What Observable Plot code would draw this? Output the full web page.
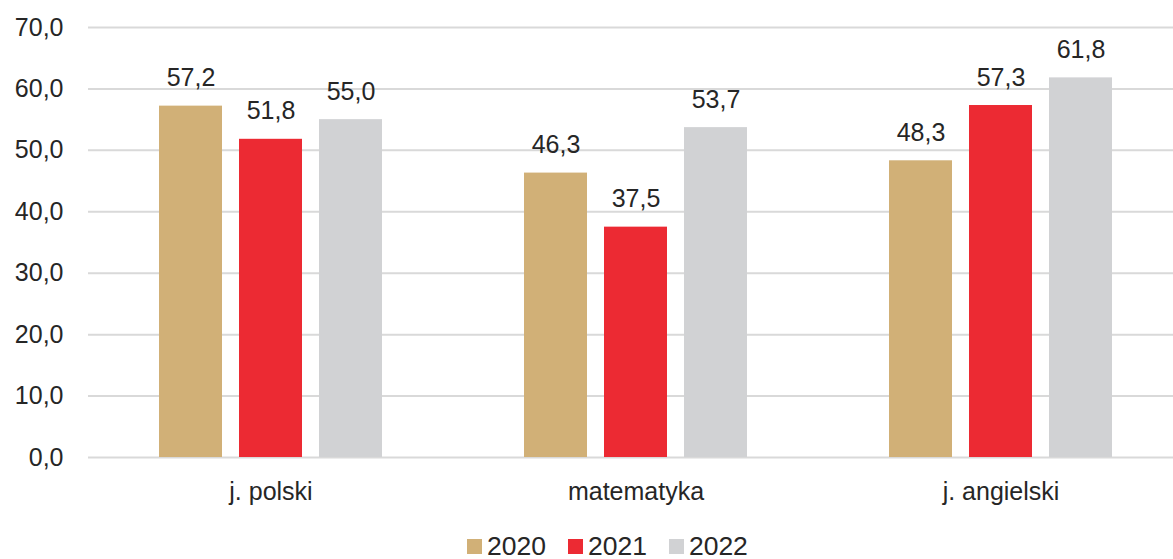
<!DOCTYPE html>
<html>
<head>
<meta charset="utf-8">
<script src="https://cdn.jsdelivr.net/npm/d3@7"></script>
<script src="https://cdn.jsdelivr.net/npm/@observablehq/plot@0.6"></script>
<style>
  body { margin: 0; background: #fff; font-family: "Liberation Sans", Arial, sans-serif; overflow: hidden; }
  #chart svg { display: block; }
  #legend { display: flex; align-items: center; margin-left: 467px; height: 26px; line-height: 26px; margin-top: 23px; font-size: 26.5px; color: #262626; }
  .item { display: flex; align-items: center; margin-right: 22px; }
  .sw { width: 15px; height: 15px; margin-right: 5px; }
</style>
</head>
<body>
<div id="chart"></div>
<div id="legend"></div>
<script>
const groups = ["j. polski", "matematyka", "j. angielski"];
const years = ["2020", "2021", "2022"];
const values2020 = [57.2, 46.3, 48.3];
const values2021 = [51.8, 37.5, 57.3];
const values2022 = [55.0, 53.7, 61.8];
const yTicks = [0, 10, 20, 30, 40, 50, 60, 70];
const colors = ["#D1B077", "#EC2A33", "#D1D2D4"];

const series = [values2020, values2021, values2022];
const data = [];
groups.forEach((g, gi) => years.forEach((y, yi) => data.push({group: g, year: y, value: series[yi][gi]})));

const fmt = v => d3.format(".1f")(v).replace(".", ",");

const chart = Plot.plot({
  width: 1173,
  height: 510,
  marginLeft: 87,
  marginRight: -11,
  marginTop: 27,
  marginBottom: 53,
  style: {fontFamily: "Liberation Sans, Arial, sans-serif", fontSize: "25px", color: "#262626", background: "#fff"},
  fx: {domain: groups, padding: 0, label: null, axis: "bottom", tickSize: 0, tickPadding: 25},
  x: {domain: years, axis: null, paddingInner: 0.21, paddingOuter: 0.86},
  y: {domain: [0, 70], ticks: yTicks, tickFormat: fmt, tickSize: 0, tickPadding: 25, label: null, fontSize: 26},
  color: {domain: years, range: colors},
  marks: [
    Plot.ruleY(yTicks, {stroke: "#d9d9d9", strokeWidth: 2}),
    Plot.barY(data, {fx: "group", x: "year", y: "value", fill: "year"}),
    Plot.text(data, {fx: "group", x: "year", y: "value", text: d => fmt(d.value), dy: -28, fill: "#262626", fontSize: 25})
  ]
});
document.getElementById("chart").appendChild(chart);

const legend = document.getElementById("legend");
years.forEach((y, i) => {
  const it = document.createElement("div");
  it.className = "item";
  const sw = document.createElement("div");
  sw.className = "sw";
  sw.style.background = colors[i];
  const t = document.createElement("span");
  t.textContent = y;
  it.appendChild(sw);
  it.appendChild(t);
  legend.appendChild(it);
});
</script>
</body>
</html>
